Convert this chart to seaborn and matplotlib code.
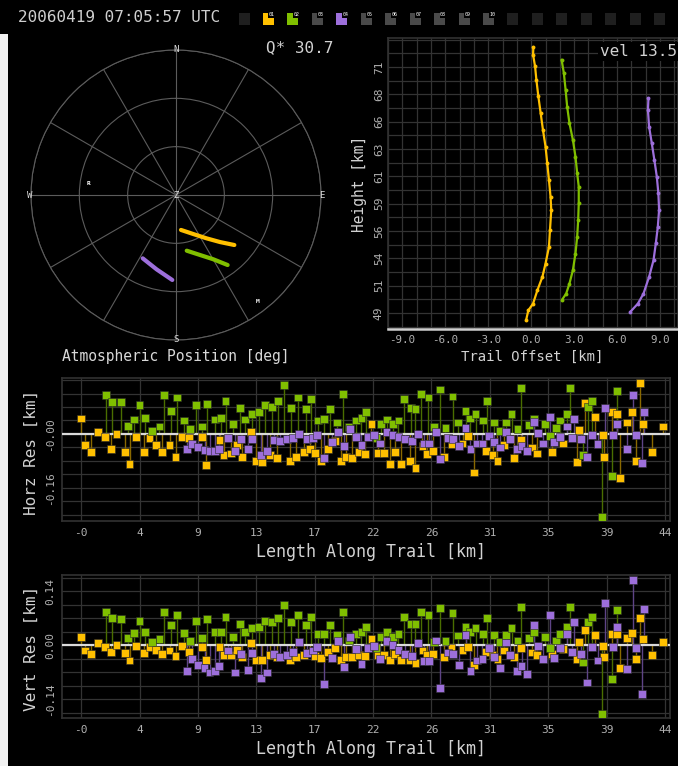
import numpy as np
import pandas as pd
import matplotlib
matplotlib.use("Agg")
import matplotlib.pyplot as plt
from matplotlib.patches import Rectangle
import seaborn as sns

# ---------------- data ----------------
stations = ["01", "02", "04"]
colors = ["#FFC000", "#80BF00", "#9D6FDB"]
stem_colors = ["#8a6900", "#4a6e00", "#5e4486"]

timestamp = "20060419 07:05:57 UTC"
q_text = "Q* 30.7"
vel_text = "vel 13.5"

# polar view: azimuth [deg] / zenith angle [deg]
az_01 = [171.9, 156.1, 144.7, 136.9, 130.6]
zen_01 = [21.9, 26.5, 33.0, 40.0, 47.7]
az_02 = [169.1, 158.2, 149.9, 143.6]
zen_02 = [35.2, 40.1, 46.1, 54.0]
az_04 = [207.7, 194.6, 182.5]
zen_04 = [44.4, 47.7, 52.8]
site_names = ["R", "M"]
site_az = [277.6, 142.6]
site_zen = [54.9, 83.4]

# trail offset vs height
off_01 = [0.15, 0.13, 0.27, 0.36, 0.50, 0.66, 0.82, 1.00, 1.12, 1.24, 1.35, 1.40, 1.31, 1.24, 1.00, 0.78, 0.43, 0.13, -0.20, -0.36]
hgt_01 = [72.8, 72.1, 71.06, 69.87, 68.37, 66.88, 65.38, 63.89, 62.39, 60.9, 59.4, 58.2, 56.41, 54.92, 53.42, 52.23, 51.03, 49.84, 49.24, 48.34]
off_02 = [2.12, 2.28, 2.40, 2.51, 2.67, 2.91, 3.09, 3.21, 3.32, 3.32, 3.28, 3.21, 3.09, 2.91, 2.67, 2.44, 2.16]
hgt_02 = [71.66, 70.46, 68.97, 67.47, 65.98, 64.49, 62.99, 61.5, 60.3, 58.81, 57.31, 55.82, 54.32, 52.83, 51.63, 50.73, 50.2]
off_04 = [8.19, 8.15, 8.23, 8.42, 8.60, 8.77, 8.88, 8.93, 8.84, 8.70, 8.54, 8.23, 7.84, 7.45, 6.91]
hgt_04 = [68.22, 67.18, 65.68, 64.19, 62.69, 61.2, 59.7, 58.21, 56.71, 55.22, 53.72, 52.23, 50.73, 49.84, 49.09]

# residuals: length along trail [km]
len_01 = [0, 0.32, 0.75, 1.27, 1.8, 2.22, 2.64, 3.29, 3.62, 4.12,
          4.69, 5.11, 5.61, 6.06, 6.61, 7.06, 7.56, 8.06, 9.03, 9.31,
          10.35, 10.65, 11.2, 11.65, 12.05, 12.72, 13.1, 13.55, 14.15, 14.64,
          15.59, 16.09, 16.64, 17.09, 17.46, 17.96, 18.44, 18.96, 19.43, 19.83,
          20.28, 20.78, 21.23, 21.71, 22.2, 22.63, 23.08, 23.5, 23.93, 24.57,
          25.0, 25.52, 25.87, 26.32, 27.14, 27.69, 28.52, 28.94, 29.39, 30.26,
          30.76, 31.13, 31.63, 32.38, 32.86, 33.72, 34.1, 35.18, 36.05, 37.05,
          37.2, 37.67, 38.42, 38.99, 39.12, 39.67, 40.09, 40.29, 40.79, 41.17,
          41.49, 41.79, 42.04, 42.66, 43.48]
horz_01 = [0.046, -0.033, -0.054, 0.007, -0.009, -0.044, 0.001, -0.054, -0.088, -0.009,
           -0.054, -0.011, -0.033, -0.054, -0.033, -0.067, -0.009, -0.012, -0.009, -0.092,
           -0.019, -0.062, -0.058, -0.033, -0.067, 0.007, -0.080, -0.084, -0.062, -0.070,
           -0.080, -0.067, -0.054, -0.044, -0.057, -0.080, -0.044, -0.020, -0.080, -0.067,
           -0.070, -0.054, -0.059, 0.030, -0.057, -0.057, -0.088, -0.054, -0.088, -0.080,
           -0.102, -0.035, -0.059, -0.050, -0.067, -0.031, -0.028, -0.006, -0.114, -0.050,
           -0.062, -0.080, -0.033, -0.070, -0.018, -0.040, -0.058, -0.054, -0.028, -0.084,
           0.012, 0.091, 0.051, -0.003, -0.067, 0.064, 0.059, -0.131, 0.034, 0.064,
           -0.080, 0.150, 0.030, -0.054, 0.022]
vert_01 = [0.022, -0.014, -0.023, 0.005, -0.004, -0.017, 0.001, -0.021, -0.040, -0.002,
           -0.021, -0.004, -0.012, -0.023, -0.014, -0.029, -0.002, -0.017, -0.005, -0.038,
           -0.005, -0.025, -0.025, -0.012, -0.031, 0.005, -0.038, -0.038, -0.025, -0.031,
           -0.038, -0.031, -0.025, -0.019, -0.028, -0.034, -0.017, -0.008, -0.038, -0.031,
           -0.031, -0.025, -0.028, 0.015, -0.025, -0.025, -0.038, -0.023, -0.038, -0.038,
           -0.047, -0.014, -0.025, -0.023, -0.031, -0.008, -0.012, -0.004, -0.051, -0.017,
           -0.025, -0.036, -0.014, -0.031, -0.008, -0.019, -0.025, -0.023, -0.010, -0.036,
           0.009, 0.040, 0.027, -0.002, -0.031, 0.029, 0.029, -0.060, 0.018, 0.031,
           -0.036, 0.070, 0.015, -0.025, 0.009]

len_02 = [1.87, 2.32, 2.99, 3.52, 3.94, 4.37, 4.79, 5.31, 5.86, 6.19,
          6.71, 7.16, 7.66, 8.11, 8.56, 9.06, 9.41, 9.98, 10.48, 10.8,
          11.35, 11.85, 12.27, 12.8, 13.27, 13.77, 14.29, 14.74, 15.17, 15.72,
          16.24, 16.79, 17.19, 17.71, 18.16, 18.59, 19.1, 19.58, 20.03, 20.53,
          20.96, 21.28, 22.08, 22.45, 22.88, 23.33, 23.73, 24.15, 24.65, 25.0,
          25.42, 25.97, 26.37, 26.82, 27.24, 27.77, 28.19, 28.74, 29.07, 29.49,
          30.06, 30.36, 30.89, 31.31, 31.76, 32.18, 32.63, 32.91, 33.46, 33.88,
          34.68, 35.05, 35.5, 35.8, 36.3, 36.55, 37.5, 37.9, 38.17, 38.92,
          39.67, 40.09]
horz_02 = [0.116, 0.094, 0.094, 0.024, 0.043, 0.086, 0.048, 0.010, 0.022, 0.116,
           0.069, 0.108, 0.040, 0.015, 0.086, 0.022, 0.089, 0.043, 0.048, 0.099,
           0.030, 0.078, 0.043, 0.059, 0.064, 0.086, 0.081, 0.099, 0.145, 0.078,
           0.108, 0.073, 0.103, 0.040, 0.044, 0.073, 0.034, 0.119, 0.020, 0.040,
           0.048, 0.066, -0.013, 0.030, 0.043, 0.030, 0.040, 0.103, 0.078, 0.073,
           0.119, 0.108, 0.020, 0.132, 0.017, 0.111, 0.034, 0.069, 0.046, 0.059,
           0.040, 0.099, 0.034, 0.009, 0.034, 0.059, 0.015, 0.137, 0.027, 0.046,
           0.030, -0.006, 0.017, 0.040, 0.059, 0.137, -0.062, 0.081, 0.099, -0.245,
           -0.124, 0.128]
vert_02 = [0.085, 0.070, 0.067, 0.018, 0.031, 0.063, 0.034, 0.009, 0.015, 0.085,
           0.053, 0.078, 0.031, 0.011, 0.063, 0.018, 0.067, 0.034, 0.034, 0.074,
           0.022, 0.055, 0.034, 0.044, 0.048, 0.063, 0.059, 0.070, 0.104, 0.060,
           0.078, 0.053, 0.074, 0.029, 0.029, 0.053, 0.027, 0.085, 0.012, 0.029,
           0.034, 0.048, -0.008, 0.022, 0.034, 0.022, 0.029, 0.074, 0.055, 0.055,
           0.085, 0.078, 0.009, 0.096, 0.011, 0.083, 0.025, 0.048, 0.035, 0.044,
           0.029, 0.070, 0.027, 0.009, 0.027, 0.044, 0.012, 0.100, 0.018, 0.035,
           0.022, -0.008, 0.012, 0.029, 0.046, 0.100, -0.045, 0.059, 0.074, -0.178,
           -0.088, 0.091]

len_04 = [7.91, 8.27, 8.75, 9.23, 9.6, 10.0, 10.3, 11.0, 11.52, 11.97,
          12.47, 12.8, 13.47, 13.9, 14.42, 14.89, 15.39, 15.84, 16.27, 16.89,
          17.34, 17.64, 18.16, 18.74, 19.21, 19.66, 20.08, 20.53, 20.96, 21.48,
          21.88, 22.33, 22.83, 23.28, 23.73, 24.22, 24.77, 25.22, 25.62, 26.02,
          26.52, 26.82, 27.44, 27.8, 28.23, 28.74, 29.11, 29.61, 30.01, 30.49,
          30.86, 31.31, 31.76, 32.06, 32.56, 32.93, 33.35, 33.88, 34.18, 34.55,
          35.05, 35.38, 35.8, 36.35, 36.68, 36.88, 37.37, 37.85, 38.17, 38.61,
          39.19, 39.74, 40.09, 40.84, 41.24, 41.49, 41.91, 42.11]
horz_04 = [-0.044, -0.030, -0.038, -0.047, -0.050, -0.050, -0.044, -0.011, -0.050, -0.015,
           -0.044, -0.015, -0.062, -0.050, -0.018, -0.021, -0.015, -0.011, 0.001, -0.015,
           -0.011, -0.003, -0.070, -0.023, 0.005, -0.036, 0.015, -0.008, -0.033, -0.008,
           -0.003, -0.028, 0.007, -0.003, -0.009, -0.015, -0.021, 0.001, -0.028, -0.028,
           0.007, -0.074, -0.011, -0.015, -0.035, 0.019, -0.044, -0.028, -0.028, -0.006,
           -0.023, -0.040, 0.007, -0.015, -0.044, -0.035, -0.050, 0.035, 0.002, -0.028,
           0.051, -0.023, -0.008, 0.022, -0.011, 0.044, -0.015, -0.067, -0.003, -0.030,
           0.078, -0.003, 0.030, -0.044, 0.116, -0.003, -0.087, 0.066]
vert_04 = [-0.066, -0.036, -0.051, -0.060, -0.071, -0.066, -0.055, -0.014, -0.071, -0.023,
           -0.064, -0.021, -0.086, -0.071, -0.023, -0.031, -0.025, -0.017, 0.008, -0.021,
           -0.014, -0.004, -0.100, -0.034, 0.011, -0.056, 0.022, -0.011, -0.049, -0.008,
           -0.002, -0.036, 0.011, 0.001, -0.012, -0.023, -0.028, 0.005, -0.041, -0.041,
           0.012, -0.112, -0.019, -0.023, -0.051, 0.027, -0.066, -0.040, -0.036, -0.008,
           -0.030, -0.060, 0.007, -0.025, -0.066, -0.055, -0.074, 0.053, -0.002, -0.036,
           0.079, -0.034, -0.008, 0.029, -0.017, 0.061, -0.023, -0.097, -0.004, -0.040,
           0.110, -0.004, 0.048, -0.062, 0.168, -0.008, -0.126, 0.093]

len_tick_step = 4.365
len_ticklabels = ["-0", "4", "9", "13", "17", "22", "26", "31", "35", "39", "44"]
hgt_tick_start, hgt_tick_step = 49.0, 2.4444
hgt_ticklabels = ["49", "51", "54", "56", "59", "61", "63", "66", "68", "71"]
off_ticks = [-9, -6, -3, 0, 3, 6, 9]
off_ticklabels = ["-9.0", "-6.0", "-3.0", "0.0", "3.0", "6.0", "9.0"]

# ---------------- style ----------------
W, H = 678, 766
sns.set_theme(style="darkgrid", rc={
    "figure.facecolor": "black", "axes.facecolor": "black",
    "grid.color": "#303030", "axes.edgecolor": "#303030",
    "text.color": "#d2d2d2", "axes.labelcolor": "#d2d2d2",
    "xtick.color": "#b0b0b0", "ytick.color": "#b0b0b0",
})
plt.rcParams["font.family"] = ["DejaVu Sans Mono", "DejaVu Sans"]

fig = plt.figure(figsize=(W / 100, H / 100), dpi=100, facecolor="black")


def rect(l, t, r, b):
    return [l / W, 1 - b / H, (r - l) / W, (b - t) / H]


pal = dict(zip(stations, colors))
stem_pal = dict(zip(stations, stem_colors))

# ---------------- header ----------------
axh = fig.add_axes([0, 1 - 36 / H, 1, 36 / H])
axh.set_xlim(0, W)
axh.set_ylim(36, 0)
axh.axis("off")
axh.text(18, 17, timestamp, fontsize=11.5, color="#cfcfcf", va="center", ha="left")
for k in range(18):
    cx = 244 + 24.45 * k
    lab = f"{k:02d}" if 1 <= k <= 10 else None
    if lab in pal:
        fc = pal[lab]
    elif lab is not None:
        fc = "#4a4a4a"
    else:
        fc = "#1f1f1f"
    axh.add_patch(Rectangle((cx - 5.5, 12.5), 11, 12, color=fc, lw=0))
    if lab is not None:
        axh.add_patch(Rectangle((cx, 12.5), 5.5, 5, color="black", lw=0))
        axh.text(cx + 3.5, 14.5, lab, fontsize=3.6, color="white", ha="center", va="center")

# white strip on the left edge
fig.patches.append(Rectangle((0, 0), 8 / W, (H - 34) / H, transform=fig.transFigure,
                             color="#f2f2f2", lw=0, zorder=10))

# ---------------- polar view ----------------
axp = fig.add_axes(rect(31, 50, 321, 340), projection="polar")
axp.set_facecolor("black")
axp.set_theta_zero_location("N")
axp.set_theta_direction(-1)
axp.set_rlim(0, 90)
axp.set_rticks([30, 60, 90])
axp.set_yticklabels([])
axp.set_thetagrids(range(0, 360, 30), labels=[])
axp.grid(True, color="#5c5c5c", lw=0.8)
axp.spines["polar"].set_color("#5c5c5c")
axp.spines["polar"].set_linewidth(0.8)
for st, az, zen in zip(stations, [az_01, az_02, az_04], [zen_01, zen_02, zen_04]):
    sns.lineplot(x=np.deg2rad(az), y=zen, ax=axp, color=pal[st], lw=3.0, sort=False,
                 estimator=None, solid_capstyle="round", zorder=5)
for nm, a, z in zip(site_names, site_az, site_zen):
    axp.text(np.deg2rad(a), z, nm, fontsize=4.5, color="white", fontweight="bold",
             ha="center", va="center")
for lbl, (px, py) in zip(["N", "S", "E", "W", "Z"],
                         [(176, 49), (176, 340), (322, 195), (30, 195), (176, 196)]):
    fig.text(px / W, 1 - py / H, lbl, fontsize=6.5, color="#dcdcdc", ha="center", va="center")
fig.text(333 / W, 1 - 48 / H, q_text, fontsize=11.5, color="#d2d2d2", ha="right", va="center")
fig.text(176 / W, 1 - 356 / H, "Atmospheric Position [deg]", fontsize=10.5,
         color="#d8d8d8", ha="center", va="center")

# ---------------- trail offset vs height ----------------
axt = fig.add_axes(rect(388, 38, 678, 329))
axt.set_facecolor("black")
for st, o, h in zip(stations, [off_01, off_02, off_04], [hgt_01, hgt_02, hgt_04]):
    sns.lineplot(x=o, y=h, ax=axt, color=pal[st], lw=1.6, sort=False, estimator=None,
                 marker="o", markersize=2.8, markeredgewidth=0, zorder=5)
axt.set_xlim(-9.9, 10.25)
axt.set_ylim(47.57, 73.6)
axt.set_xticks(off_ticks)
axt.set_xticklabels(off_ticklabels)
axt.set_xticks(np.arange(-10, 11, 1.0), minor=True)
hticks = [hgt_tick_start + hgt_tick_step * k for k in range(len(hgt_ticklabels))]
axt.set_yticks(hticks)
axt.set_yticklabels(hgt_ticklabels, rotation=90, va="center")
axt.set_yticks([hgt_tick_start + hgt_tick_step / 2 * k for k in range(-1, 21)], minor=True)
axt.grid(True, which="both", color="#333333", lw=0.9)
axt.tick_params(axis="x", which="major", labelsize=7.8, pad=4, length=0)
axt.tick_params(axis="y", which="major", labelsize=8, pad=3, length=0)
axt.tick_params(which="minor", length=0)
for s in ["top", "right", "left"]:
    axt.spines[s].set_color("#303030")
axt.spines["bottom"].set_color("#d0d0d0")
axt.spines["bottom"].set_linewidth(1.8)
axt.set_xlabel("Trail Offset [km]", fontsize=10, va="center", ha="center")
axt.xaxis.set_label_coords(0.497, -0.095)
axt.set_ylabel("Height [km]", fontsize=10.5, va="center", ha="center")
axt.yaxis.set_label_coords(-0.0966, 0.498)
axt.text(0.73, 0.955, vel_text, transform=axt.transAxes, fontsize=11.5, color="#d2d2d2",
         ha="left", va="center", bbox=dict(facecolor="black", edgecolor="none", pad=1.5), zorder=10)

# ---------------- residual panels ----------------
res_len = {"01": len_01, "02": len_02, "04": len_04}
res_vals = {"horz": {"01": horz_01, "02": horz_02, "04": horz_04},
            "vert": {"01": vert_01, "02": vert_02, "04": vert_04}}


def draw_resid(box, key, ylim, gstep, gn, yticks, yticklabels, ylabel, ylab_y):
    ax = fig.add_axes(rect(*box))
    ax.set_facecolor("black")
    for st in stations:
        ax.vlines(res_len[st], 0, res_vals[key][st], colors=stem_pal[st], lw=1.0, zorder=2)
    ax.axhline(0, color="#dadada", lw=1.6, zorder=3)
    df = pd.concat([pd.DataFrame({"length": res_len[st], "res": res_vals[key][st], "station": st})
                    for st in stations], ignore_index=True)
    sns.scatterplot(data=df, x="length", y="res", hue="station", palette=pal, marker="s",
                    s=32, edgecolor="#2a2a2a", linewidth=0.4, legend=False, ax=ax, zorder=4)
    ax.set_xlim(-1.43, 44.03)
    ax.set_ylim(*ylim)
    ax.set_xticks([len_tick_step * k for k in range(len(len_ticklabels))])
    ax.set_xticklabels(len_ticklabels)
    ax.set_yticks(yticks)
    ax.set_yticklabels(yticklabels, rotation=90, va="center")
    ax.set_yticks([gstep * k for k in range(-gn[0], gn[1] + 1)], minor=True)
    ax.grid(True, which="major", axis="x", color="#333333", lw=0.9)
    ax.grid(True, which="both", axis="y", color="#333333", lw=0.9)
    ax.tick_params(axis="x", which="major", labelsize=8, pad=5, length=0)
    ax.tick_params(axis="y", which="major", labelsize=8, pad=5, length=0)
    ax.tick_params(which="minor", length=0)
    for s in ax.spines.values():
        s.set_color("#303030")
    ax.set_xlabel("Length Along Trail [km]", fontsize=12, va="center", ha="center")
    h = box[3] - box[1]
    ax.xaxis.set_label_coords(0.508, (box[3] - (box[3] + 31)) / h)
    ax.set_ylabel(ylabel, fontsize=11.5, va="center", ha="center")
    ax.yaxis.set_label_coords((31 - box[0]) / (box[2] - box[0]), (box[3] - ylab_y) / h)
    return ax


draw_resid((62, 378, 670, 521), "horz", (-0.258, 0.166), 0.04, (6, 4),
           [-0.16, 0.0], ["-0.16", "-0.00"], "Horz Res [km]", 452)
draw_resid((62, 575, 670, 718), "vert", (-0.189, 0.182), 0.035, (5, 5),
           [-0.14, 0.0, 0.14], ["-0.14", "0.00", "0.14"], "Vert Res [km]", 648)

fig.savefig("out.png", dpi=100, facecolor="black")
